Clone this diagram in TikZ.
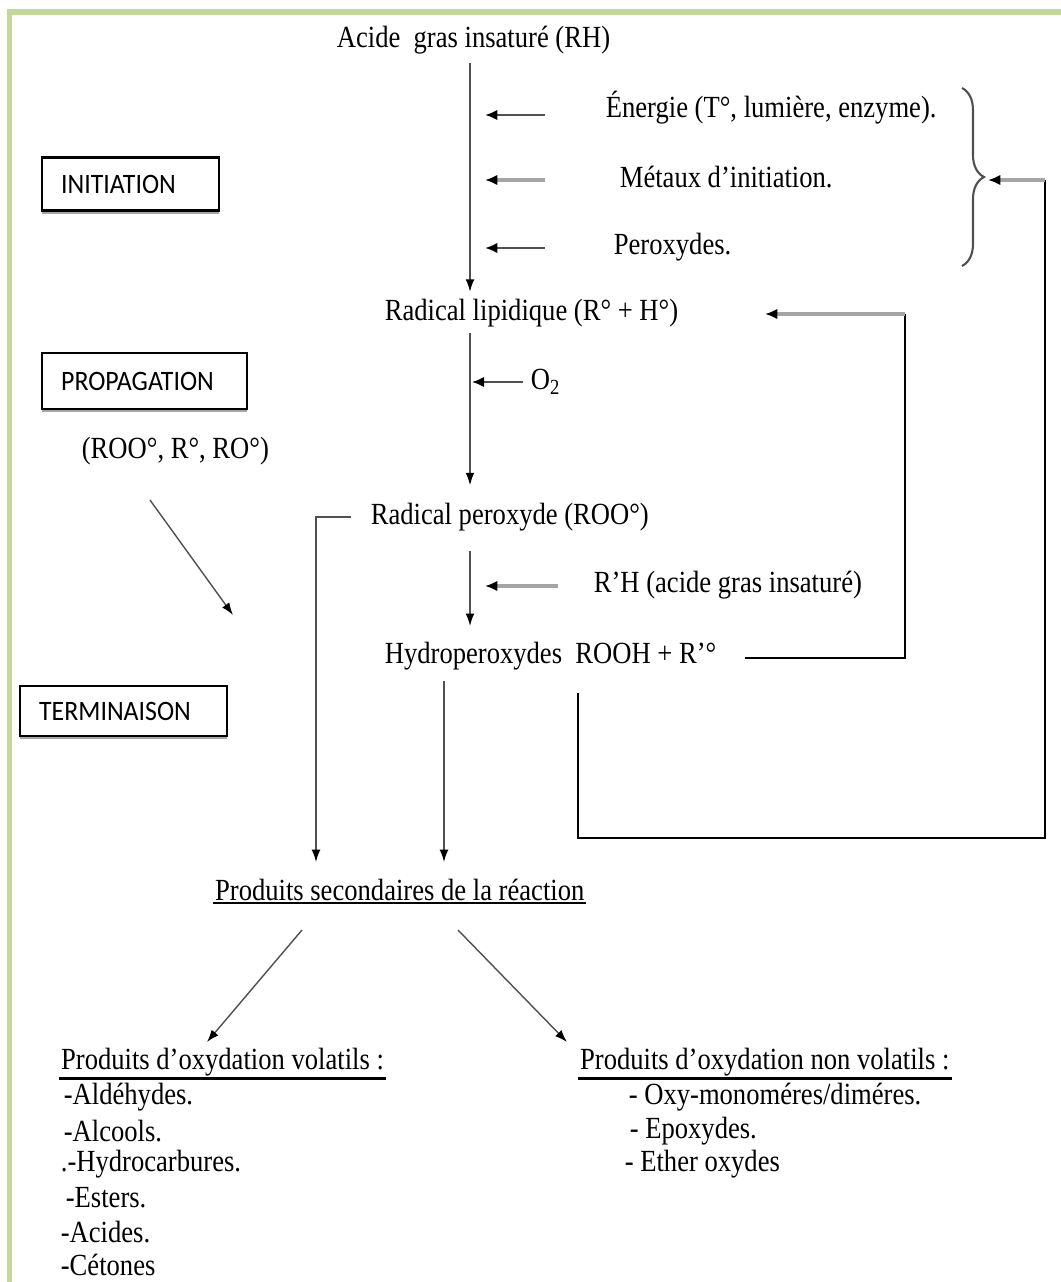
\documentclass[tikz,border=0pt]{standalone}
\usepackage{fontspec}
\setmainfont{Liberation Serif}[FakeStretch=0.865]
\newfontfamily\phasefont{Carlito}[FakeStretch=0.92]
\usetikzlibrary{arrows.meta,decorations.pathreplacing,shadows}
\definecolor{framegr}{RGB}{196,215,155}
\definecolor{lineGr}{RGB}{80,80,80}
\definecolor{lightGr}{RGB}{165,165,165}

\begin{document}
\begin{tikzpicture}[x=0.02cm,y=-0.02cm,
    every node/.style={font=\fontsize{17.5}{19}\selectfont,inner sep=2pt},
    txt/.style={anchor=west},
    phase/.style={draw,line width=1.3pt,fill=white,anchor=west,align=left,
      font=\phasefont\fontsize{16}{18}\selectfont,inner xsep=0.38cm,
      drop shadow={shadow xshift=0pt,shadow yshift=-1.8pt,fill=gray!70,opacity=1}},
    flow/.style={lineGr,line width=0.8pt,-{Latex[length=7pt,width=5pt,color=black]}},
    side/.style={lineGr,line width=1.5pt,-{Latex[length=7pt,width=6pt,color=black]}},
    lightside/.style={lightGr,line width=2pt,-{Latex[length=7pt,width=6pt,color=black]}},
    loopline/.style={black,line width=1.3pt},
    ulin/.style={black,line width=1.6pt}]

    \useasboundingbox (0,0) rectangle (1061,1282);

    % frame (left and top only)
    \draw[framegr,line width=0.12cm] (9.5,1282) -- (9.5,12) -- (1061,12);

    % phase boxes
    \node[phase,text width=2.78cm,minimum height=1.06cm] (init) at (41,184) {INITIATION};
    \node[phase,text width=3.34cm,minimum height=1.12cm] (prop) at (41,381) {PROPAGATION};
    \node[phase,text width=3.38cm,minimum height=1.0cm] (term) at (19,711) {TERMINAISON};

    % main chain
    \node[txt] (rh) at (333,40) {Acide\ \ gras insaturé (RH)};
    \node[txt] (lip) at (381,313) {Radical lipidique (R° + H°)};
    \node[txt] (roo) at (367,517) {Radical peroxyde (ROO°)};
    \node[txt] (hyd) at (381,656) {Hydroperoxydes\ \ ROOH + R’°};
    \coordinate (ax) at (470,0);

    \draw[flow,shorten <=3pt,shorten >=2pt] (rh.south -| ax) -- (lip.north -| ax);
    \draw[flow,shorten <=1pt,shorten >=8pt] (lip.south -| ax) -- (roo.north -| ax);
    \draw[flow,shorten <=9pt,shorten >=7pt] (roo.south -| ax) -- (hyd.north -| ax);

    % initiation factors
    \node[txt] (ener) at (602,108) {Énergie (T°, lumière, enzyme).};
    \node[txt] (meta) at (616,177) {Métaux d’initiation.};
    \node[txt] (perx) at (610,247) {Peroxydes.};
    \coordinate (e1) at (545,115);
    \coordinate (e2) at (545,180);
    \coordinate (e3) at (545,248);
    \draw[side] (e1) -- ([xshift=0.3cm]e1 -| ax);
    \draw[lightside] (e2) -- ([xshift=0.3cm]e2 -| ax);
    \draw[side] (e3) -- ([xshift=0.3cm]e3 -| ax);
    \draw[lineGr,line width=1.2pt,decorate,decoration={brace,amplitude=0.44cm}]
      (962,88) -- (962,266);
    \coordinate (brtip) at (988,180);

    % propagation inputs
    \node[txt] (o2) at (527,382) {O\textsubscript{2}};
    \draw[side,shorten <=2pt] (o2.west) -- ([xshift=1pt]o2.west -| ax);
    \node[txt] (rph) at (590,585) {R’H (acide gras insaturé)};
    \coordinate (e4) at (558,586);
    \draw[lightside] (e4) -- ([xshift=0.3cm]e4 -| ax);

    % loop back to radical lipidique
    \coordinate (l1) at (745,658);
    \coordinate (l1end) at (765,314);
    \draw[loopline] (l1) -- ++(160,0) -- (905,314);
    \draw[lightside,line width=2.4pt] (905,314) -- (l1end);

    % loop back to the initiation brace
    \coordinate (l2) at (578,693);
    \draw[loopline] (l2) -- (578,838) -- (1045,838) -- (1045,180);
    \draw[lightside,line width=2.4pt] (1045,180) -- (brtip);

    % radicals and termination
    \node[txt] (rads) at (78,451) {(ROO°, R°, RO°)};
    \coordinate (t1) at (150,500);
    \coordinate (t2) at (233,615);
    \draw[flow] (t1) -- (t2);

    \node[txt,inner sep=1pt] (sec) at (213,890) {Produits secondaires de la réaction};
    \draw[ulin] (sec.south west) -- (sec.south east);
    \coordinate (s1) at (316,862);
    \coordinate (s2) at (444,862);
    \draw[flow,shorten <=9pt] (roo.west) -| (s1);
    \draw[flow,shorten <=4pt] (hyd.south -| s2) -- (s2);

    % products
    \coordinate (p1) at (302,930);
    \coordinate (p2) at (207,1042);
    \coordinate (p3) at (458,930);
    \coordinate (p4) at (567,1042);
    \draw[flow] (p1) -- (p2);
    \draw[flow] (p3) -- (p4);

    \node[txt,inner sep=1pt] (vol) at (59,1062) {Produits d’oxydation volatils :};
    \draw[ulin] (vol.south west) -- (vol.south east);
    \node[txt,inner sep=1pt] (nvol) at (578,1062) {Produits d’oxydation non volatils :};
    \draw[ulin] (nvol.south west) -- (nvol.south east);

    \node[txt] (v1) at (60,1097) {-Aldéhydes.};
    \node[txt] (v2) at (60,1131) {-Alcools.};
    \node[txt] (v3) at (57,1164) {.-Hydrocarbures.};
    \node[txt] (v4) at (62,1198) {-Esters.};
    \node[txt] (v5) at (57,1232) {-Acides.};
    \node[txt] (v6) at (57,1265) {-Cétones};

    \node[txt] (n1) at (625,1097) {- Oxy-monoméres/diméres.};
    \node[txt] (n2) at (626,1131) {- Epoxydes.};
    \node[txt] (n3) at (621,1164) {- Ether oxydes};

  \end{tikzpicture}
\end{document}
